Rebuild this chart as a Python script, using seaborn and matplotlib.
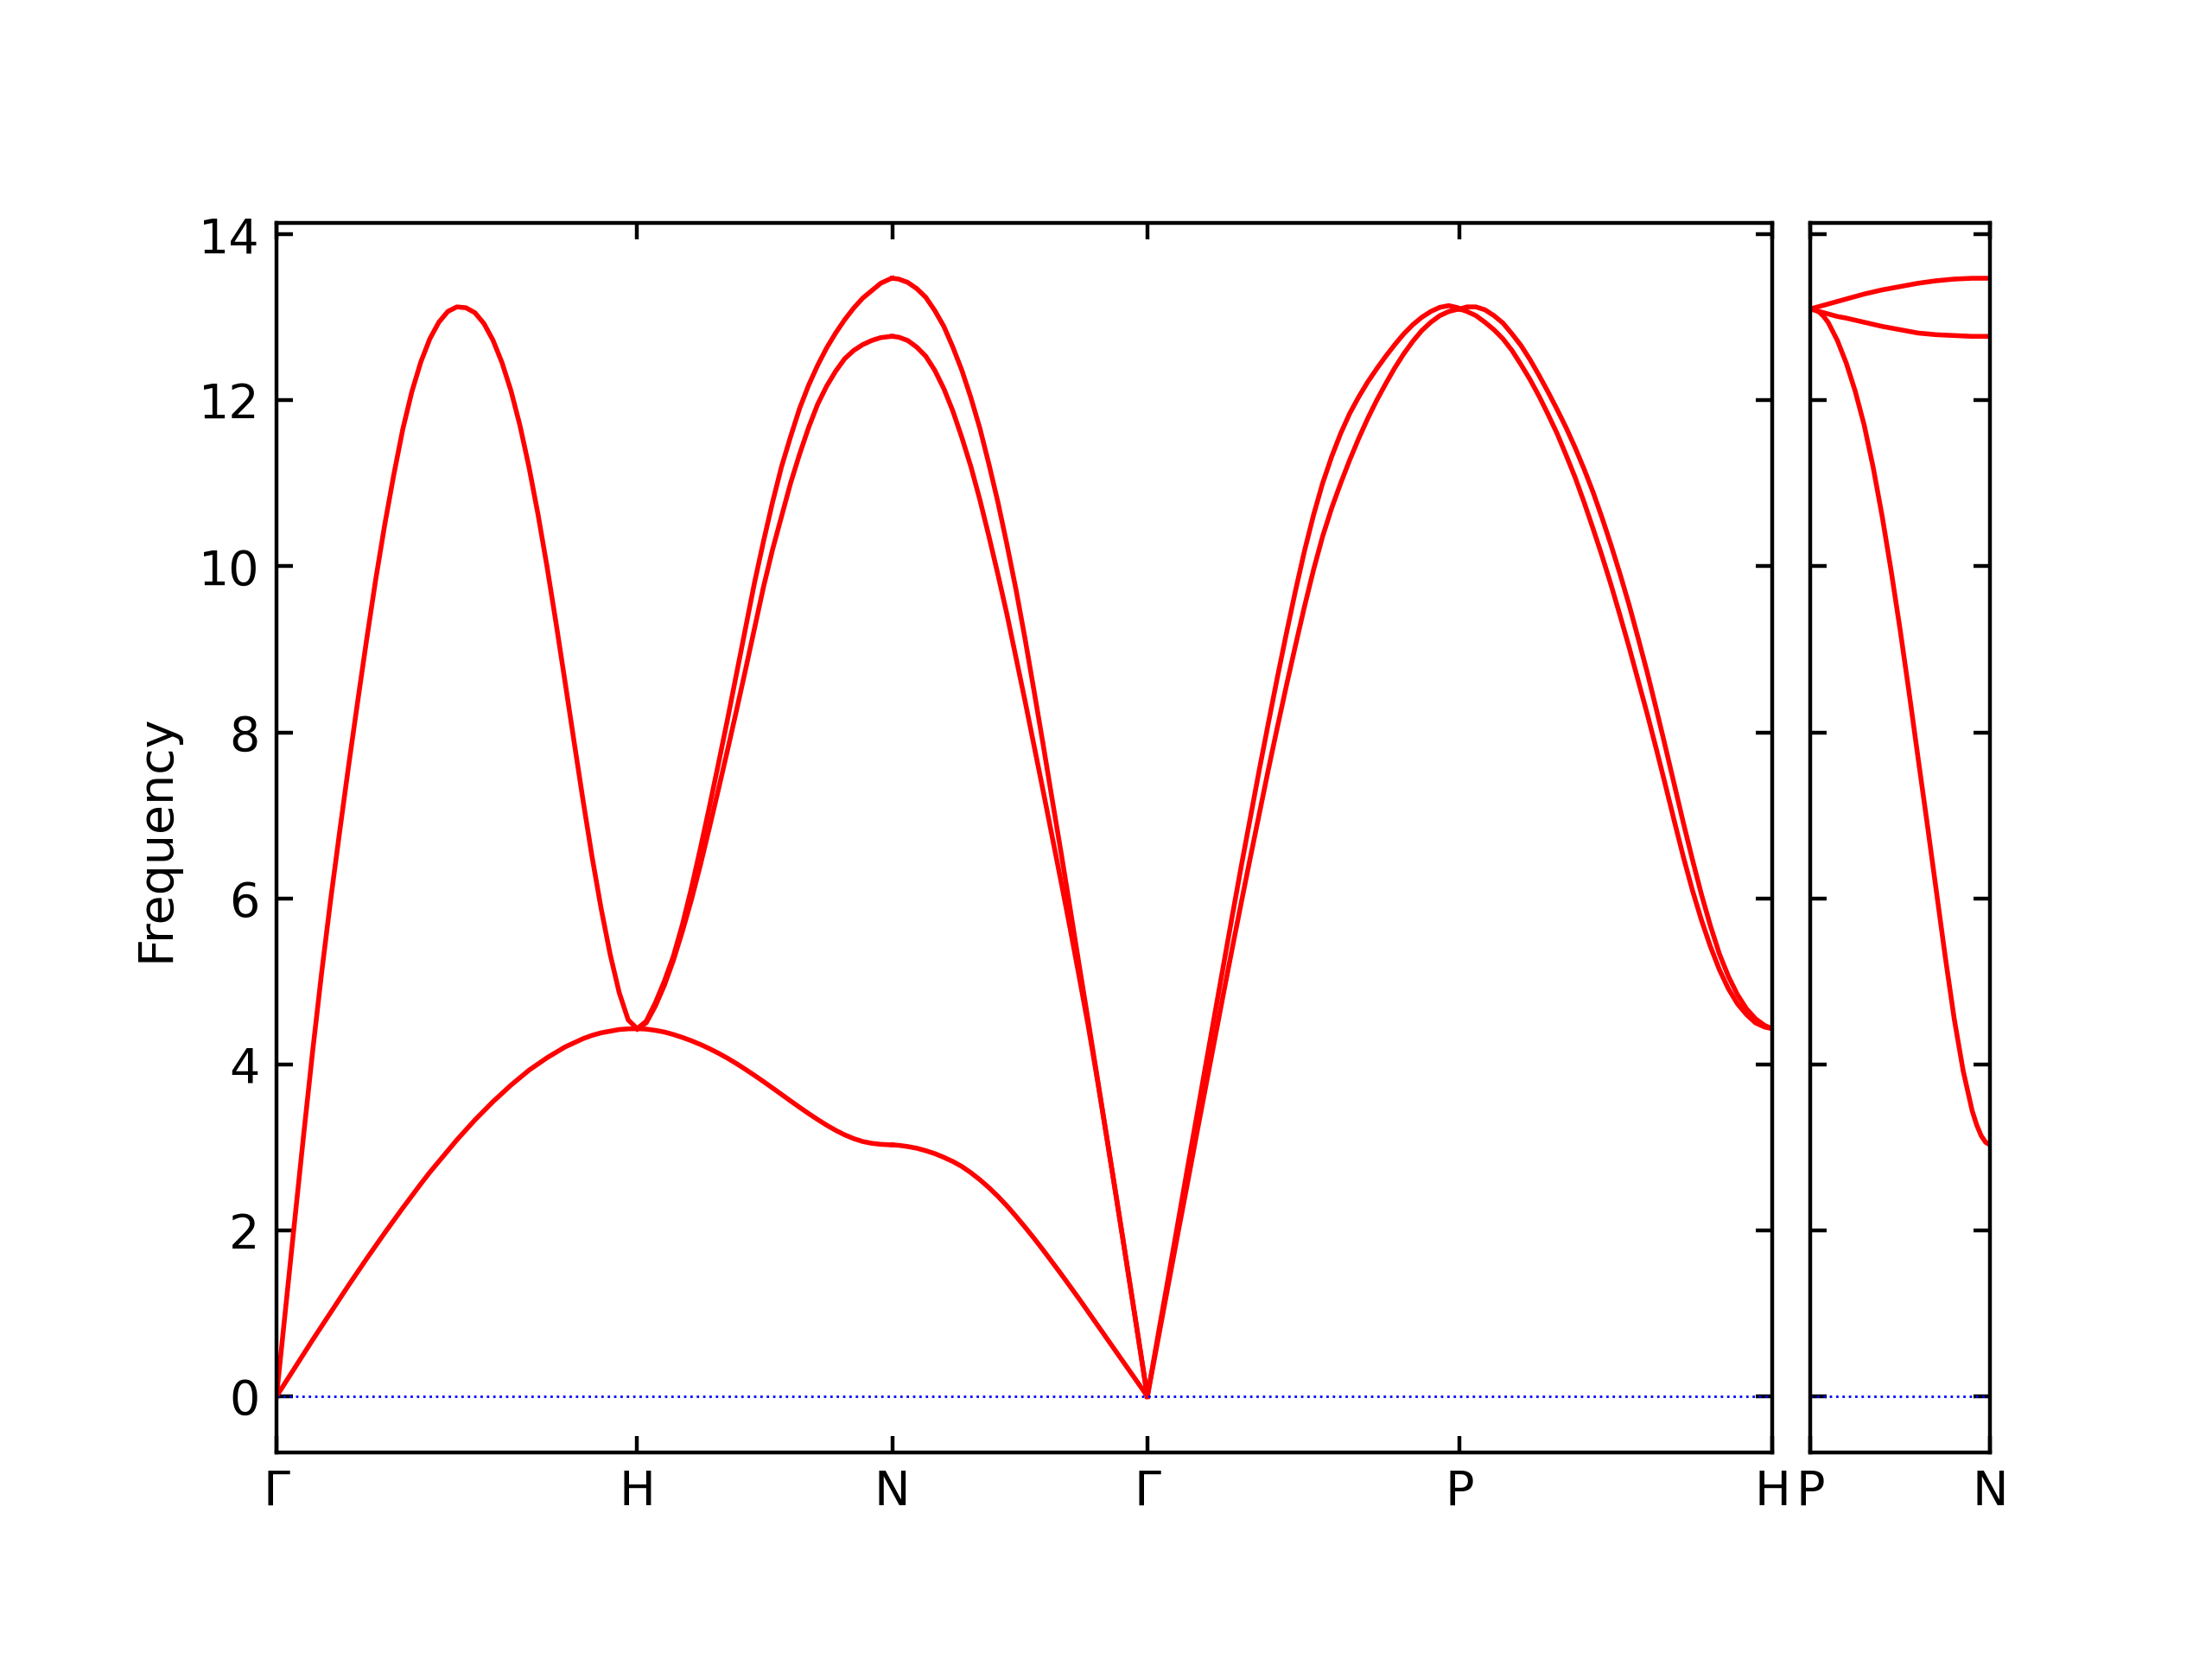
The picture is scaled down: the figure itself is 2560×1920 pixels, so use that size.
import matplotlib
matplotlib.use("Agg")
import matplotlib.pyplot as plt
import seaborn as sns
import pandas as pd

# ---------------- data ----------------
path_labels = ["Γ", "H", "N", "Γ", "P", "H"]
path_ticks = [0.0, 1.0, 1.7071, 2.4142, 3.2802, 4.1463]
pn_labels = ["P", "N"]
pn_ticks = [0.0, 0.5]
freq_ticks = [0, 2, 4, 6, 8, 10, 12, 14]

# Gamma - H
gh_x = [0.0, 0.025, 0.05, 0.075, 0.1, 0.125, 0.15, 0.175, 0.2, 0.225, 0.25,
        0.275, 0.3, 0.325, 0.35, 0.375, 0.4, 0.425, 0.45, 0.475, 0.5, 0.525,
        0.55, 0.575, 0.6, 0.625, 0.65, 0.675, 0.7, 0.725, 0.75, 0.775, 0.8,
        0.825, 0.85, 0.875, 0.9, 0.925, 0.95, 0.975, 1.0]
gh_low = [0.0, 0.17, 0.34, 0.51, 0.68, 0.845, 1.01, 1.175, 1.34, 1.5, 1.66,
          1.815, 1.97, 2.12, 2.27, 2.415, 2.56, 2.7, 2.83, 2.96, 3.09, 3.21,
          3.33, 3.44, 3.55, 3.65, 3.75, 3.84, 3.93, 4.005, 4.08, 4.145, 4.21,
          4.26, 4.31, 4.35, 4.38, 4.40, 4.42, 4.428, 4.43]
gh_up = [0.0, 1.05, 2.1, 3.14, 4.15, 5.1, 5.98, 6.8, 7.6, 8.37, 9.12,
         9.84, 10.5, 11.1, 11.65, 12.1, 12.46, 12.74, 12.94, 13.07, 13.125, 13.115,
         13.055, 12.925, 12.725, 12.455, 12.115, 11.695, 11.195, 10.625, 9.995, 9.315, 8.605,
         7.885, 7.175, 6.495, 5.875, 5.325, 4.865, 4.535, 4.43]

# H - N
hn_x = [1.0, 1.025, 1.05, 1.075, 1.1, 1.125, 1.15, 1.175, 1.2, 1.225, 1.25,
        1.275, 1.3, 1.325, 1.35, 1.375, 1.4, 1.425, 1.45, 1.475, 1.5, 1.525,
        1.55, 1.575, 1.6, 1.625, 1.65, 1.675, 1.7, 1.7071]
hn_t1 = [4.43, 4.52, 4.74, 5.0, 5.3, 5.68, 6.12, 6.6, 7.1, 7.62, 8.15,
         8.7, 9.25, 9.8, 10.3, 10.77, 11.2, 11.56, 11.9, 12.18, 12.42, 12.63,
         12.81, 12.97, 13.11, 13.23, 13.32, 13.41, 13.46, 13.47]
hn_t2 = [4.43, 4.5, 4.7, 4.95, 5.25, 5.6, 5.98, 6.4, 6.85, 7.31, 7.78,
         8.26, 8.75, 9.25, 9.75, 10.2, 10.6, 11.0, 11.35, 11.67, 11.95, 12.17,
         12.35, 12.5, 12.6, 12.67, 12.72, 12.755, 12.768, 12.77]
hn_low = [4.43, 4.425, 4.41, 4.39, 4.36, 4.325, 4.285, 4.24, 4.19, 4.135, 4.075,
          4.01, 3.94, 3.868, 3.793, 3.716, 3.638, 3.56, 3.483, 3.408, 3.336, 3.268,
          3.206, 3.151, 3.106, 3.071, 3.049, 3.037, 3.031, 3.03]

# N - Gamma
ng_x = [1.7071, 1.725, 1.75, 1.775, 1.8, 1.825, 1.85, 1.875, 1.9, 1.925, 1.95,
        1.975, 2.0, 2.025, 2.05, 2.075, 2.1, 2.125, 2.15, 2.175, 2.2, 2.225,
        2.25, 2.275, 2.3, 2.325, 2.35, 2.375, 2.4, 2.4142]
ng_t1 = [13.47, 13.46, 13.42, 13.345, 13.24, 13.08, 12.89, 12.64, 12.36, 12.03, 11.66,
         11.23, 10.77, 10.26, 9.72, 9.13, 8.5, 7.86, 7.2, 6.55, 5.88, 5.2,
         4.53, 3.85, 3.17, 2.49, 1.8, 1.1, 0.4, 0.0]
ng_t2 = [12.77, 12.76, 12.72, 12.64, 12.53, 12.36, 12.14, 11.87, 11.55, 11.2, 10.8,
         10.36, 9.9, 9.42, 8.9, 8.38, 7.84, 7.3, 6.75, 6.2, 5.64, 5.06,
         4.47, 3.83, 3.16, 2.48, 1.79, 1.1, 0.4, 0.0]
ng_low = [3.03, 3.025, 3.01, 2.99, 2.96, 2.925, 2.88, 2.83, 2.77, 2.695, 2.61,
          2.515, 2.41, 2.295, 2.17, 2.04, 1.905, 1.765, 1.62, 1.475, 1.325, 1.175,
          1.02, 0.865, 0.71, 0.555, 0.40, 0.245, 0.09, 0.0]

# Gamma - P
gp_x = [2.4142, 2.425, 2.45, 2.475, 2.5, 2.525, 2.55, 2.575, 2.6, 2.625, 2.65,
        2.675, 2.7, 2.725, 2.75, 2.775, 2.8, 2.825, 2.85, 2.875, 2.9, 2.925,
        2.95, 2.975, 3.0, 3.025, 3.05, 3.075, 3.1, 3.125, 3.15, 3.175, 3.2,
        3.225, 3.25, 3.275, 3.2802]
gp_a = [0.0, 0.27, 0.89, 1.5, 2.12, 2.74, 3.35, 3.97, 4.58, 5.19, 5.8,
        6.4, 6.98, 7.56, 8.12, 8.67, 9.2, 9.71, 10.19, 10.62, 11.0, 11.32,
        11.6, 11.84, 12.04, 12.22, 12.38, 12.53, 12.67, 12.8, 12.91, 13.0, 13.07,
        13.12, 13.14, 13.115, 13.10]
gp_b = [0.0, 0.25, 0.83, 1.41, 1.99, 2.56, 3.14, 3.71, 4.28, 4.85, 5.41,
        5.96, 6.5, 7.03, 7.56, 8.07, 8.57, 9.05, 9.52, 9.96, 10.36, 10.7,
        11.0, 11.28, 11.54, 11.78, 12.0, 12.2, 12.39, 12.56, 12.71, 12.84, 12.94,
        13.02, 13.07, 13.097, 13.10]

# P - H
ph_x = [3.2802, 3.3, 3.325, 3.35, 3.375, 3.4, 3.425, 3.45, 3.475, 3.5, 3.525,
        3.55, 3.575, 3.6, 3.625, 3.65, 3.675, 3.7, 3.725, 3.75, 3.775, 3.8,
        3.825, 3.85, 3.875, 3.9, 3.925, 3.95, 3.975, 4.0, 4.025, 4.05, 4.075,
        4.1, 4.125, 4.1463]
ph_c = [13.10, 13.125, 13.125, 13.09, 13.02, 12.93, 12.8, 12.66, 12.49, 12.3, 12.1,
        11.89, 11.67, 11.43, 11.17, 10.89, 10.58, 10.25, 9.9, 9.53, 9.13, 8.72,
        8.28, 7.83, 7.37, 6.91, 6.47, 6.05, 5.67, 5.33, 5.06, 4.84, 4.67,
        4.55, 4.47, 4.43]
ph_d = [13.10, 13.07, 13.02, 12.94, 12.85, 12.74, 12.6, 12.43, 12.25, 12.05, 11.83,
        11.6, 11.34, 11.07, 10.77, 10.45, 10.12, 9.77, 9.4, 9.02, 8.62, 8.22,
        7.8, 7.37, 6.93, 6.5, 6.1, 5.74, 5.42, 5.14, 4.91, 4.73, 4.6,
        4.5, 4.45, 4.43]

# P - N (second panel)
pn_x = [0.0, 0.0125, 0.025, 0.0375, 0.05, 0.075, 0.1, 0.125, 0.15, 0.175, 0.2,
        0.225, 0.25, 0.275, 0.3, 0.325, 0.35, 0.375, 0.4, 0.425, 0.45, 0.4625,
        0.475, 0.4875, 0.5]
pn_e = [13.10, 13.115, 13.13, 13.145, 13.16, 13.19, 13.22, 13.25, 13.28, 13.305, 13.33,
        13.35, 13.37, 13.39, 13.41, 13.425, 13.44, 13.45, 13.46, 13.465, 13.47, 13.47,
        13.47, 13.47, 13.47]
pn_f = [13.10, 13.085, 13.07, 13.055, 13.04, 13.01, 12.99, 12.965, 12.94, 12.915, 12.89,
        12.87, 12.85, 12.83, 12.81, 12.80, 12.79, 12.785, 12.78, 12.775, 12.77, 12.77,
        12.77, 12.77, 12.77]
pn_g = [13.10, 13.09, 13.062, 13.01, 12.937, 12.725, 12.45, 12.11, 11.7, 11.19, 10.6,
        9.94, 9.23, 8.47, 7.68, 6.9, 6.1, 5.3, 4.55, 3.92, 3.44, 3.27,
        3.14, 3.06, 3.03]

# ---------------- build tables ----------------
main_curves = [
    (gh_x, gh_low), (gh_x, gh_up),
    (hn_x, hn_t1), (hn_x, hn_t2), (hn_x, hn_low),
    (ng_x, ng_t1), (ng_x, ng_t2), (ng_x, ng_low),
    (gp_x, gp_a), (gp_x, gp_b),
    (ph_x, ph_c), (ph_x, ph_d),
]
side_curves = [(pn_x, pn_e), (pn_x, pn_f), (pn_x, pn_g)]


def to_frame(curves):
    rows = []
    for cid, (xs, ys) in enumerate(curves):
        for xv, yv in zip(xs, ys):
            rows.append({"dist": xv, "freq": yv, "curve": cid})
    return pd.DataFrame(rows)


df_main = to_frame(main_curves)
df_side = to_frame(side_curves)

# ---------------- figure ----------------
fig = plt.figure(figsize=(6.4, 4.8), dpi=400)
ax1 = fig.add_axes([0.125, 0.1246, 0.67617, 0.7412])
ax2 = fig.add_axes([0.81836, 0.1246, 0.08137, 0.7412], sharey=ax1)

for ax, df in ((ax1, df_main), (ax2, df_side)):
    sns.lineplot(data=df, x="dist", y="freq", units="curve", estimator=None,
                 sort=False, color="red", linewidth=1.0, ax=ax, legend=False)
    ax.axhline(0, linestyle=":", linewidth=0.5, color="b")
    ax.tick_params(axis="both", which="major", direction="in",
                   top=True, right=True, labelsize=10)
    ax.set_xlabel("")
    ax.set_ylabel("")

ax1.set_xlim(path_ticks[0], path_ticks[-1])
ax1.set_xticks(path_ticks)
ax1.set_xticklabels(path_labels)
ax2.set_xlim(pn_ticks[0], pn_ticks[-1])
ax2.set_xticks(pn_ticks)
ax2.set_xticklabels(pn_labels)

ax1.set_ylim(-0.673, 14.14)
ax1.set_yticks(freq_ticks)
ax1.set_ylabel("Frequency", fontsize=10)
ax2.tick_params(labelleft=False)

fig.savefig("out.png", dpi=400)
